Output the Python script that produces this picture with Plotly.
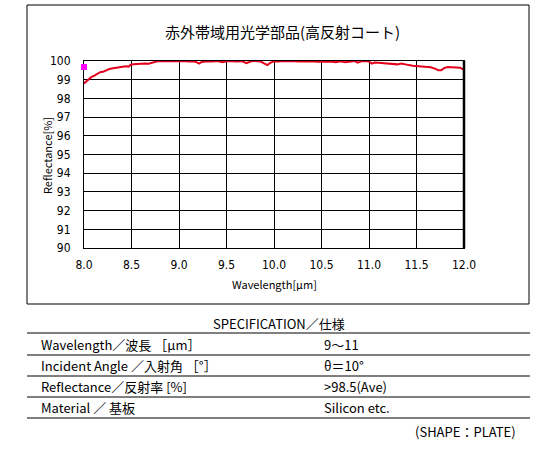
import plotly.graph_objects as go

W, H = 560, 452

# Messkurve
wavelength = [
    8.00, 8.02, 8.05, 8.08, 8.11, 8.14, 8.17, 8.20, 8.23, 8.26, 8.29, 8.32,
    8.36, 8.40, 8.44, 8.47, 8.49, 8.52, 8.56, 8.60, 8.64, 8.68, 8.72, 8.76,
    8.80, 8.85, 8.90, 8.95, 9.00, 9.05, 9.10, 9.15, 9.18, 9.21, 9.24, 9.30,
    9.35, 9.40, 9.46, 9.50, 9.55, 9.60, 9.66, 9.71, 9.76, 9.80, 9.86, 9.90,
    9.93, 9.96, 10.00, 10.05, 10.10, 10.15, 10.20, 10.25, 10.30, 10.35,
    10.40, 10.45, 10.50, 10.55, 10.60, 10.65, 10.70, 10.75, 10.80, 10.85,
    10.88, 10.92, 10.96, 11.00, 11.03, 11.06, 11.10, 11.15, 11.20, 11.25,
    11.30, 11.34, 11.38, 11.42, 11.46, 11.50, 11.55, 11.60, 11.65, 11.70,
    11.73, 11.76, 11.79, 11.83, 11.87, 11.90, 11.93, 11.96, 12.00,
]
reflectance = [
    98.80, 98.90, 99.02, 99.15, 99.22, 99.32, 99.40, 99.42, 99.50, 99.56,
    99.60, 99.62, 99.66, 99.70, 99.72, 99.70, 99.80, 99.82, 99.84, 99.83,
    99.86, 99.85, 99.92, 99.97, 99.98, 100.0, 99.98, 100.0, 99.98, 100.0,
    99.97, 99.99, 99.95, 99.86, 99.95, 99.99, 99.97, 100.0, 99.93, 99.99,
    100.0, 99.97, 99.99, 99.89, 99.98, 100.0, 99.97, 99.88, 99.78, 99.90,
    99.98, 99.97, 100.0, 99.98, 100.0, 99.97, 99.98, 100.0, 99.98, 99.96,
    99.97, 99.95, 99.97, 99.94, 99.98, 99.93, 99.97, 100.0, 99.91, 99.98,
    100.0, 99.97, 99.86, 99.92, 99.90, 99.87, 99.88, 99.85, 99.82, 99.86,
    99.84, 99.78, 99.75, 99.73, 99.72, 99.70, 99.66, 99.58, 99.50, 99.50,
    99.62, 99.68, 99.66, 99.67, 99.62, 99.64, 99.52,
]
marker_x = [8.0]
marker_y = [99.68]

x_ticks = [8.0, 8.5, 9.0, 9.5, 10.0, 10.5, 11.0, 11.5, 12.0]
y_ticks = list(range(90, 101))

title_text = "赤外帯域用光学部品(高反射コート)"
x_title = "Wavelength[μm]"
y_title = "Reflectance[%]"

spec_header = "SPECIFICATION／仕様"
spec_labels = [
    "Wavelength／波長 ［μm］",
    "Incident Angle ／入射角 ［°］",
    "Reflectance／反射率 [%]",
    "Material ／ 基板",
]
spec_values = ["9～11", "θ＝10°", ">98.5(Ave)", "Silicon etc."]
shape_note = "(SHAPE：PLATE)"

JP = "Noto Sans CJK JP, sans-serif"
NUM = "Liberation Sans Narrow, DejaVu Sans Condensed, sans-serif"


def px(x):
    return x / W


def py(y):
    return 1 - y / H


def label(fig, text, x, y, size=13, xanchor="center", angle=0):
    fig.add_annotation(text=text, x=px(x), y=py(y), xref="paper",
                       yref="paper", xanchor=xanchor, yanchor="middle",
                       showarrow=False, textangle=angle,
                       font={"family": JP, "size": size, "color": "black"})


fig = go.Figure()
fig.add_trace(go.Scatter(
    x=wavelength, y=reflectance, mode="lines",
    line={"color": "#e3001b", "width": 2},
    cliponaxis=False, hoverinfo="skip",
))
fig.add_trace(go.Scatter(
    x=marker_x, y=marker_y, mode="markers",
    marker={"color": "#ff00ff", "size": 6, "symbol": "square"},
    cliponaxis=False, hoverinfo="skip",
))

axis_common = dict(
    showgrid=True, gridcolor="black", gridwidth=1,
    showline=True, linecolor="black", linewidth=1, mirror=True,
    zeroline=False, ticks="", layer="below traces", automargin=False,
    tickfont={"family": NUM, "size": 12, "color": "black"},
    fixedrange=True,
)

fig.update_layout(
    width=W, height=H, autosize=False,
    margin={"l": 0, "r": 0, "t": 0, "b": 0, "pad": 0, "autoexpand": False},
    paper_bgcolor="white", plot_bgcolor="white",
    showlegend=False,
    xaxis=dict(
        axis_common, domain=[px(84), px(464)], range=[8, 12],
        tickvals=x_ticks, ticktext=[f"{v:.1f}" for v in x_ticks],
        ticklabelstandoff=6,
    ),
    yaxis=dict(
        axis_common, domain=[py(248), py(61)], range=[90, 100],
        tickvals=y_ticks, ticklabelstandoff=10,
    ),
)

# Rahmen um den Chart und dicke rechte Achsenlinie
fig.add_shape(type="rect", xref="paper", yref="paper",
              x0=px(27), x1=px(529), y0=py(304), y1=py(5),
              line={"color": "black", "width": 1})
fig.add_shape(type="line", xref="x domain", yref="y domain",
              x0=1, x1=1, y0=0, y1=1,
              line={"color": "black", "width": 2.5})

label(fig, title_text, 282, 31, size=15)
label(fig, x_title, 274, 284, size=11)
label(fig, y_title, 47, 155, size=11, angle=-90)

# Spezifikationstabelle
label(fig, spec_header, 279, 323)
row_lines = [333, 355, 376, 397, 418]
for yl in row_lines:
    fig.add_shape(type="line", xref="paper", yref="paper",
                  x0=px(27), x1=px(530), y0=py(yl), y1=py(yl),
                  line={"color": "black", "width": 1})
for i, (name, value) in enumerate(zip(spec_labels, spec_values)):
    yc = (row_lines[i] + row_lines[i + 1]) / 2
    label(fig, name, 39, yc, xanchor="left")
    label(fig, value, 322, yc, xanchor="left")
label(fig, shape_note, 518, 431, xanchor="right")

fig.write_html("out.html", config={"displayModeBar": False},
               post_script="document.body.style.margin='0';")
